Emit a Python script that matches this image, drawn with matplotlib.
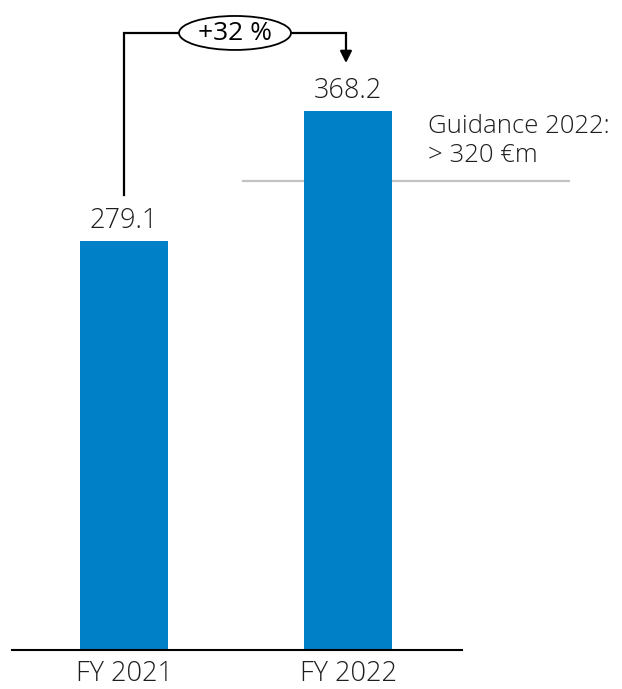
import matplotlib.pyplot as plt
from matplotlib.patches import Ellipse

# EBIT, in €m
years = ["FY 2021", "FY 2022"]
values = [279.1, 368.2]
guidance = 320
growth_label = "+32 %"

blue = "#0080c6"
text_color = "#1e1e1e"

plt.rcParams["font.family"] = ["Open Sans", "DejaVu Sans"]

fig = plt.figure(figsize=(6.22, 6.89), dpi=100)
ax = fig.add_axes([0, 39 / 689, 1, 650 / 689])
x = list(range(len(years)))

ax.bar(x, values, width=0.393, color=blue, zorder=2)
ax.set_xlim(-0.5536, 2.2232)
ax.set_ylim(0, 443.7)

# baseline
ax.plot([-0.5, 1.509], [0, 0], color="black", lw=1.5, clip_on=False, zorder=3)

for xi, v in zip(x, values):
    ax.text(xi, v + 8.9, f"{v:.1f}", ha="center", va="baseline", fontsize=19.5,
            fontweight="light", color=text_color)

# category labels below the baseline
for xi, label in zip(x, years):
    ax.text(xi, -25.6, label, ha="center", va="bottom", fontsize=19.5,
            fontweight="light", color=text_color, clip_on=False)

# guidance line and label
ax.plot([0.531, 1.987], [guidance, guidance], color="#c3c3c3", lw=1.6, zorder=1)
ax.text(1.357, guidance + 33, "Guidance 2022:", ha="left", va="baseline",
        fontsize=18.5, fontweight="light", color=text_color)
ax.text(1.357, guidance + 13, "> 320 €m", ha="left", va="baseline",
        fontsize=18.5, fontweight="light", color=text_color)

# growth bracket from FY 2021 to FY 2022
top = values[1] + 53
ax.plot([0, 0, 0.991, 0.991], [values[0] + 31.5, top, top, top - 6],
        color="black", lw=1.6, solid_joinstyle="miter")
ax.annotate("", xy=(0.991, values[1] + 32.5), xytext=(0.991, top - 7),
            arrowprops=dict(arrowstyle="-|>,head_width=0.35,head_length=0.7",
                            color="black", lw=1.6, shrinkA=0, shrinkB=0))
ax.add_patch(Ellipse((0.4955, top), 0.5, 23.2, facecolor="white",
                     edgecolor="black", lw=1.3, zorder=4))
ax.text(0.4955, top - 0.5, growth_label, ha="center", va="center", fontsize=19,
        fontweight="medium", color="black", zorder=5)

ax.set_xticks([])
ax.set_yticks([])
for s in ax.spines.values():
    s.set_visible(False)

fig.savefig("out.png", dpi=100)
